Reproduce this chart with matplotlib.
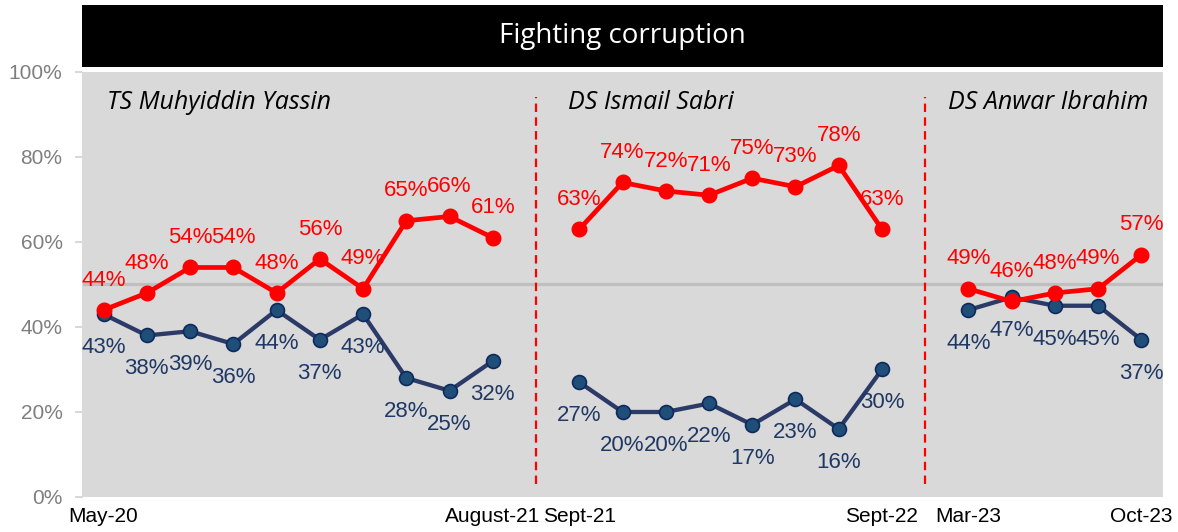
import matplotlib.pyplot as plt
import numpy as np
from matplotlib.patches import Rectangle

# survey data, one list per PM term
leaders = ["TS Muhyiddin Yassin", "DS Ismail Sabri", "DS Anwar Ibrahim"]
red_vals = [
    [44, 48, 54, 54, 48, 56, 49, 65, 66, 61],
    [63, 74, 72, 71, 75, 73, 78, 63],
    [49, 46, 48, 49, 57],
]
blue_vals = [
    [43, 38, 39, 36, 44, 37, 43, 28, 25, 32],
    [27, 20, 20, 22, 17, 23, 16, 30],
    [44, 47, 45, 45, 37],
]
start_labels = ["May-20", "Sept-21", "Mar-23"]
end_labels = ["August-21", "Sept-22", "Oct-23"]

RED = "#FF0000"
NAVY = "#2B3A67"
NAVY_FILL = "#1F4E79"
NAVY_TXT = "#1F3864"
FONT = "Liberation Sans"

fig = plt.figure(figsize=(11.78, 5.32), dpi=100)
ax = fig.add_axes([0.0696, 0.0658, 0.9177, 0.7989])
ax.set_facecolor("#D9D9D9")

# title bar
fig.patches.append(Rectangle((0.0696, 0.8741), 0.9177, 0.1165, transform=fig.transFigure,
                             facecolor="black", edgecolor="none"))
fig.text(0.0696 + 0.9177 / 2, 0.8741 + 0.1165 / 2, "Fighting corruption", color="white",
         fontsize=20, family="Open Sans", ha="center", va="center")

ax.axhline(50, color="#BFBFBF", lw=2.3, zorder=1)

ticks, tlabels = [], []
start = 0
name_x = [0.08, 10.74, 19.53]
for i in range(3):
    n = len(red_vals[i])
    x = np.arange(start, start + n)
    ax.plot(x, blue_vals[i], color=NAVY, lw=3.1, marker="o", ms=10,
            mfc=NAVY_FILL, mec="#0E2A5C", mew=1.2, zorder=3)
    ax.plot(x, red_vals[i], color=RED, lw=3.4, marker="o", ms=10.5,
            mfc=RED, mec=RED, zorder=4)
    for xi, r, b in zip(x, red_vals[i], blue_vals[i]):
        ax.annotate(f"{r}%", (xi, r), xytext=(0, 21.5), textcoords="offset points",
                    ha="center", va="center", color=RED, fontsize=16, family=FONT, zorder=5)
        ax.annotate(f"{b}%", (xi, b), xytext=(0, -24), textcoords="offset points",
                    ha="center", va="center", color=NAVY_TXT, fontsize=16, family=FONT, zorder=5)
    ax.text(name_x[i], 92.9, leaders[i], fontsize=18, style="italic", family="Open Sans",
            ha="left", va="center", color="black")
    ticks += [start, start + n - 1]
    tlabels += [start_labels[i], end_labels[i]]
    if i < 2:
        ax.axvline(start + n, ymin=0.03, ymax=0.94, color=RED, lw=1.6,
                   linestyle=(0, (3.8, 2.4)), zorder=2)
    start += n + 1

ax.set_xlim(-0.5, start - 1.5)
ax.set_ylim(0, 100)
ax.set_yticks(range(0, 101, 20))
ax.set_yticklabels([f"{v}%" for v in range(0, 101, 20)], color="#7F7F7F",
                   fontsize=15, family=FONT)
ax.set_xticks(ticks)
ax.set_xticklabels(tlabels, fontsize=15, family=FONT, color="black")
ax.tick_params(axis="y", length=5, color="#D9D9D9", width=1.5, pad=9)
ax.tick_params(axis="x", length=0, pad=7)
for s in ax.spines.values():
    s.set_visible(False)
ax.spines["left"].set_visible(True)
ax.spines["left"].set_color("#D9D9D9")

fig.savefig("out.png", dpi=100)
